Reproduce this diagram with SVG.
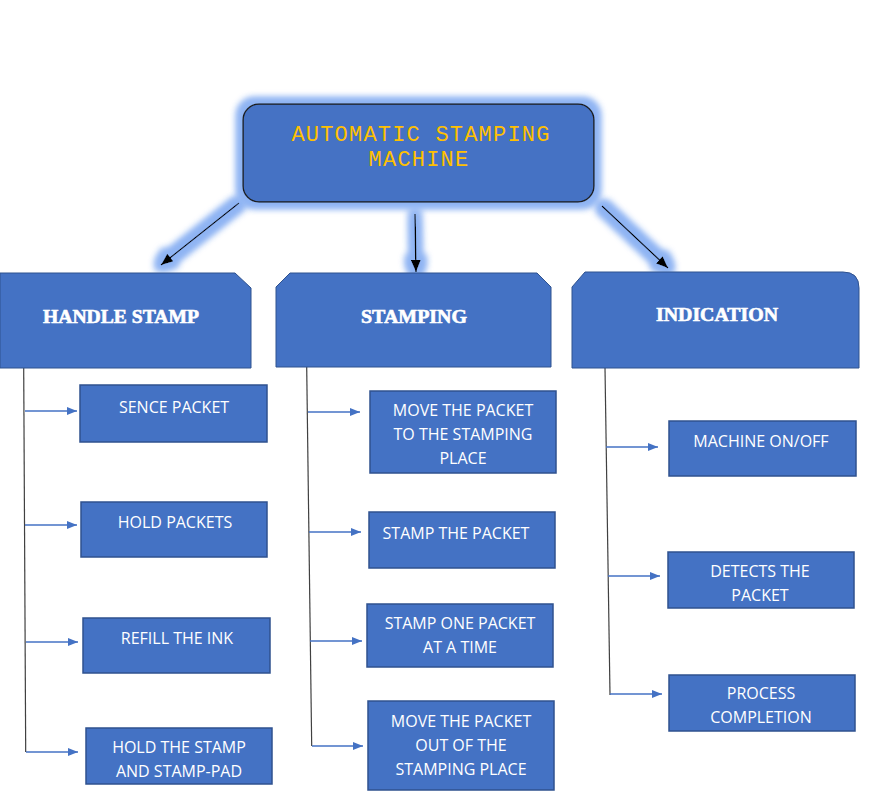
<svg xmlns="http://www.w3.org/2000/svg" width="878" height="803" viewBox="0 0 878 803">
<style>
.cat{fill:#4472C4;stroke:#2F528F;stroke-width:1}
.leaf{fill:#4472C4;stroke:#2F528F;stroke-width:1.5}
.ct{font-family:"Liberation Serif",serif;font-weight:bold;font-size:18px;fill:#FFFFFF;stroke:#FFFFFF;stroke-width:0.6;text-anchor:middle}
.lt{font-family:"Open Sans","Liberation Sans",sans-serif;font-size:16px;fill:#FFFFFF;text-anchor:middle}
.tt{font-family:"Liberation Mono","DejaVu Sans Mono",monospace;font-size:22px;fill:#FFC000;text-anchor:middle;letter-spacing:1.2px}
.trunk{stroke:#404040;stroke-width:1.2;fill:none}
.br{stroke:#4472C4;stroke-width:1.5;fill:none;marker-end:url(#ba)}
.main{stroke:#000000;stroke-width:1.5;fill:none;marker-end:url(#ka)}
</style>
<defs>
<marker id="ba" markerWidth="10" markerHeight="8" refX="10" refY="4" orient="auto" markerUnits="userSpaceOnUse">
<path d="M0,0 L10,4 L0,8 Z" fill="#4472C4"/>
</marker>
<marker id="ka" markerWidth="12" markerHeight="10" refX="12" refY="5" orient="auto" markerUnits="userSpaceOnUse">
<path d="M0,0 L12,5 L0,10 Z" fill="#000000"/>
</marker>
<filter id="glow" filterUnits="userSpaceOnUse" x="0" y="0" width="878" height="803">
<feMorphology in="SourceAlpha" operator="dilate" radius="5" result="d"/>
<feGaussianBlur in="d" stdDeviation="3.5" result="b"/>
<feFlood flood-color="#8FB4F3" flood-opacity="1"/>
<feComposite in2="b" operator="in" result="g"/>
<feMerge><feMergeNode in="g"/><feMergeNode in="g"/><feMergeNode in="SourceGraphic"/></feMerge>
</filter>
</defs>
<rect width="878" height="803" fill="#FFFFFF"/>

<g id="connectors">
<g filter="url(#glow)">
<line class="main" x1="239" y1="203" x2="161" y2="265"/>
<line class="main" x1="415" y1="214" x2="416" y2="272"/>
<line class="main" x1="602" y1="206" x2="668" y2="268"/>
</g>
<path class="trunk" d="M23.7,368 L25.7,752"/>
<path class="trunk" d="M306.7,367 L311.7,746"/>
<path class="trunk" d="M605,368 L610,695"/>
<line class="br" x1="25" y1="411" x2="77" y2="411"/>
<line class="br" x1="25" y1="525" x2="77" y2="525"/>
<line class="br" x1="26" y1="642" x2="78" y2="642"/>
<line class="br" x1="26" y1="752" x2="78" y2="752"/>
<line class="br" x1="308" y1="412" x2="360" y2="412"/>
<line class="br" x1="309" y1="532" x2="361" y2="532"/>
<line class="br" x1="310" y1="641" x2="362" y2="641"/>
<line class="br" x1="312" y1="746" x2="363" y2="746"/>
<line class="br" x1="606" y1="447" x2="658" y2="447"/>
<line class="br" x1="608" y1="576" x2="660" y2="576"/>
<line class="br" x1="610" y1="694" x2="662" y2="694"/>
</g>

<g id="root">
<rect x="243" y="104" width="351" height="98" rx="16" ry="16" fill="#4472C4" stroke="#1C1C1C" stroke-width="1.5" filter="url(#glow)"/>
<text class="tt" x="421" y="141">AUTOMATIC STAMPING</text>
<text class="tt" x="419" y="166">MACHINE</text>
</g>

<g id="handle-stamp">
<path class="cat" d="M0,273 L235,273 L251,288 L251,368 L0,368 Z"/>
<text class="ct" x="121" y="323" textLength="156" lengthAdjust="spacingAndGlyphs">HANDLE STAMP</text>
</g>
<g id="stamping">
<path class="cat" d="M290,273 L537,273 L551,287 L551,367 L276,367 L276,287 Z"/>
<text class="ct" x="414" y="323" textLength="106" lengthAdjust="spacingAndGlyphs">STAMPING</text>
</g>
<g id="indication">
<path class="cat" d="M585,272 L843,272 Q859,272 859,288 L859,368 L572,368 L572,287 Z"/>
<text class="ct" x="717" y="321" textLength="122" lengthAdjust="spacingAndGlyphs">INDICATION</text>
</g>

<g id="sence-packet">
<rect class="leaf" x="80" y="385" width="187" height="57"/>
<text class="lt" x="174" y="413">SENCE PACKET</text>
</g>
<g id="hold-packets">
<rect class="leaf" x="81" y="502" width="186" height="55"/>
<text class="lt" x="175" y="528">HOLD PACKETS</text>
</g>
<g id="refill-ink">
<rect class="leaf" x="83" y="618" width="187" height="55"/>
<text class="lt" x="177" y="644">REFILL THE INK</text>
</g>
<g id="hold-stamp">
<rect class="leaf" x="86" y="728" width="186" height="56"/>
<text class="lt" x="179" y="753">HOLD THE STAMP</text>
<text class="lt" x="179" y="777">AND STAMP-PAD</text>
</g>

<g id="move-to">
<rect class="leaf" x="370" y="391" width="186" height="82"/>
<text class="lt" x="463" y="416">MOVE THE PACKET</text>
<text class="lt" x="463" y="440">TO THE STAMPING</text>
<text class="lt" x="463" y="464">PLACE</text>
</g>
<g id="stamp-packet">
<rect class="leaf" x="369" y="512" width="186" height="56"/>
<text class="lt" x="456" y="539">STAMP THE PACKET</text>
</g>
<g id="stamp-one">
<rect class="leaf" x="367" y="604" width="186" height="63"/>
<text class="lt" x="460" y="629">STAMP ONE PACKET</text>
<text class="lt" x="460" y="653">AT A TIME</text>
</g>
<g id="move-out">
<rect class="leaf" x="368" y="701" width="186" height="89"/>
<text class="lt" x="461" y="727">MOVE THE PACKET</text>
<text class="lt" x="461" y="751">OUT OF THE</text>
<text class="lt" x="461" y="775">STAMPING PLACE</text>
</g>

<g id="machine-onoff">
<rect class="leaf" x="669" y="421" width="187" height="55"/>
<text class="lt" x="761" y="447">MACHINE ON/OFF</text>
</g>
<g id="detects">
<rect class="leaf" x="668" y="552" width="186" height="56"/>
<text class="lt" x="760" y="577">DETECTS THE</text>
<text class="lt" x="760" y="601">PACKET</text>
</g>
<g id="process">
<rect class="leaf" x="669" y="675" width="186" height="56"/>
<text class="lt" x="761" y="699">PROCESS</text>
<text class="lt" x="761" y="723">COMPLETION</text>
</g>
</svg>
